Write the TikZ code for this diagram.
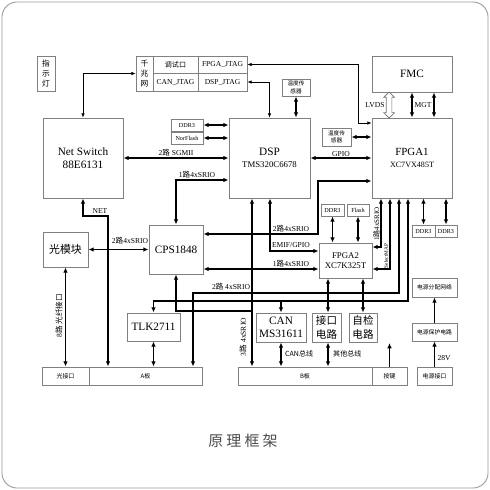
\documentclass[tikz,border=0pt]{standalone}
\usepackage{fontspec}
\setmainfont{Liberation Serif}
\newfontfamily\cjk{Noto Sans CJK SC}
\usetikzlibrary{arrows.meta}
\usetikzlibrary{shapes.arrows}
\newcommand{\fsz}[2]{\fontsize{#1}{#2}\selectfont}

\begin{document}
\begin{tikzpicture}[x=0.2mm,y=-0.2mm]
  \tikzset{tipA/.tip={Latex[length=3pt,width=2.6pt]}}
  \tikzset{tipB/.tip={Latex[length=2.4pt,width=2pt]}}
  \tikzset{blk/.style = {shape=rectangle,draw=black!50,line width=0.5pt,inner sep=0pt,align=center}}
  \tikzset{bus/.style = {line width=0.75pt,tipA-tipA}}
  \tikzset{sig/.style = {line width=0.75pt,-tipA}}
  \tikzset{jtag/.style = {line width=0.35pt,tipB-tipB}}
  \tikzset{lbl/.style = {inner sep=0.5pt,font=\fsz{4.3}{5}}}
  \tikzset{lvds/.style = {shape=double arrow,draw=black!55,fill=white,line width=0.4pt,rotate=90,
      minimum height=5.2mm,inner sep=0.5mm,double arrow head extend=0.5mm}}

  \useasboundingbox (0,0) rectangle (490,490);
  \draw[black!40,line width=0.5pt,rounded corners=3mm] (2,2) rectangle (488,488);

  % top row
  \node[blk,minimum width=3.6mm,minimum height=7mm,font=\cjk\fsz{4.4}{5.7}] (lamp) at (46,73.5) {指\\示\\灯};
  \node[blk,minimum width=3.4mm,minimum height=7mm,font=\cjk\fsz{4.4}{5.7}] (gbe) at (144.5,73.5) {千\\兆\\网};
  \node[blk,minimum width=9mm,minimum height=3.4mm,font=\cjk\fsz{4}{5}] (dbg) at (175.5,64.5) {调试口};
  \node[blk,minimum width=9mm,minimum height=3.6mm,font=\fsz{4.3}{5}] (canjtag) at (175.5,82) {CAN\_JTAG};
  \node[blk,minimum width=9.8mm,minimum height=3.4mm,font=\fsz{4.3}{5}] (fpgajtag) at (222.5,64.5) {FPGA\_JTAG};
  \node[blk,minimum width=9.8mm,minimum height=3.6mm,font=\fsz{4.3}{5}] (dspjtag) at (222.5,82) {DSP\_JTAG};
  \node[blk,minimum width=16mm,minimum height=7.2mm,font=\fsz{6.4}{7.4}] (fmc) at (412,74) {FMC};
  \node[blk,minimum width=5.6mm,minimum height=3.4mm,font=\cjk\fsz{3.2}{4.2}] (tempdsp) at (296,87.5) {温度传\\感器};

  % main processors
  \node[blk,minimum width=16mm,minimum height=16mm,font=\fsz{6.4}{7.4}] (netsw) at (83,158) {Net Switch\\88E6131};
  \node[blk,minimum width=6.4mm,minimum height=2.4mm,font=\fsz{3.5}{4}] (ddrdsp) at (187,125) {DDR3};
  \node[blk,minimum width=6.4mm,minimum height=2.4mm,font=\fsz{3.5}{4}] (nordsp) at (187,138) {NorFlash};
  \node[blk,minimum width=16.2mm,minimum height=16mm,font=\fsz{6.4}{7}] (dsp) at (269.5,158) {DSP\\{\fsz{5}{7}TMS320C6678}};
  \node[blk,minimum width=5.8mm,minimum height=3.6mm,font=\cjk\fsz{3.2}{4.2}] (tempfpga) at (336.5,137) {温度传\\感器};
  \node[blk,minimum width=16mm,minimum height=16mm,font=\fsz{6.2}{7.2}] (fpga1) at (412,158) {FPGA1\\{\fsz{4.6}{7.2}XC7VX485T}};

  % memories
  \node[blk,minimum width=4.6mm,minimum height=2.4mm,font=\fsz{3.5}{4}] (ddrk7) at (332.5,210) {DDR3};
  \node[blk,minimum width=4.4mm,minimum height=2.4mm,font=\fsz{3.5}{4}] (flashk7) at (358,210) {Flash};
  \node[blk,minimum width=4.6mm,minimum height=2.4mm,font=\fsz{3.5}{4}] (ddrv7a) at (423.5,231) {DDR3};
  \node[blk,minimum width=4.4mm,minimum height=2.4mm,font=\fsz{3.5}{4}] (ddrv7b) at (446,231) {DDR3};

  % middle row
  \node[blk,minimum width=9mm,minimum height=7mm,font=\cjk\fsz{6.2}{7}] (optmod) at (65.5,249.5) {光模块};
  \node[blk,minimum width=10.8mm,minimum height=9.8mm,font=\fsz{6.4}{7}] (cps) at (176,249.5) {CPS1848};
  \node[blk,minimum width=10.6mm,minimum height=7mm,font=\fsz{5}{6}] (fpga2) at (345.5,260.5) {FPGA2\\XC7K325T};
  \node[blk,minimum width=9mm,minimum height=3.8mm,font=\cjk\fsz{3.3}{4}] (pwrdist) at (434.5,287.5) {电源分配网络};

  % lower row
  \node[blk,minimum width=10.6mm,minimum height=5.6mm,font=\fsz{6.4}{7}] (tlk) at (153.5,327) {TLK2711};
  \node[blk,minimum width=10mm,minimum height=5.8mm,font=\fsz{6.4}{7.7}] (can) at (281,327.5) {CAN\\MS31611};
  \node[blk,minimum width=5.8mm,minimum height=5.8mm,font=\cjk\fsz{6}{8}] (ifc) at (326.5,327.5) {接口\\电路};
  \node[blk,minimum width=5.6mm,minimum height=5.8mm,font=\cjk\fsz{6}{8}] (bist) at (363,327.5) {自检\\电路};
  \node[blk,minimum width=9mm,minimum height=3.6mm,font=\cjk\fsz{3.3}{4}] (pwrprot) at (434.5,332) {电源保护电路};

  % connectors at the bottom
  \node[blk,minimum width=9.4mm,minimum height=3.6mm,font=\cjk\fsz{3.4}{4}] (optif) at (65.5,376) {光接口};
  \node[blk,minimum width=22.6mm,minimum height=3.6mm,font=\cjk\fsz{3.4}{4}] (boarda) at (145.5,376) {A板};
  \node[blk,minimum width=26.8mm,minimum height=3.6mm,font=\cjk\fsz{3.4}{4}] (boardb) at (305,376) {B板};
  \node[blk,minimum width=7mm,minimum height=3.6mm,font=\cjk\fsz{3.4}{4}] (keys) at (389.5,376) {按键};
  \node[blk,minimum width=7mm,minimum height=3.6mm,font=\cjk\fsz{3.4}{4}] (pwrin) at (434.5,376) {电源接口};
  \coordinate (keystip) at (389.5,343);

  \node[font=\cjk\fsz{8.5}{10},text=black!70] (title) at (243,441) {原\hspace{1.8pt}理\hspace{1.8pt}框\hspace{1.8pt}架};

  % debug links
  \draw[jtag] (netsw.north) |- (gbe.west);
  \draw[jtag] (fpgajtag.east) -| (358,123) -- (fpga1.west |- 358,123);
  \draw[jtag] (dspjtag.east) -| (dsp.north);

  % buses
  \foreach \from in {ddrdsp, nordsp}
    \draw[bus] (\from.east) -- (\from.east -| dsp.west);
  \draw[bus] (tempdsp.south) -- (tempdsp.south |- dsp.north);
  \draw[bus] (tempfpga.east) -- (tempfpga.east -| fpga1.west);
  \draw[bus] (netsw.east) -- node[lbl,above] (lsgmii) {2{\cjk 路} SGMII} (dsp.west);
  \draw[bus] (dsp.east) -- node[lbl,above] (lgpio) {GPIO} (fpga1.west);
  \draw[bus] (fmc.south) -- (fpga1.north);
  \draw[bus] (434,0 |- fmc.south) -- (434,0 |- fpga1.north);
  \node[lvds] (lvdsarrow) at (389,105) {};
  \node[lbl] (llvds) at (375,105) {LVDS};
  \node[lbl] (lmgt) at (423,105) {MGT};

  \draw[bus] (cps.north) |- (dsp.west |- 0,180);
  \node[lbl] (lsrioa) at (197,175) {1{\cjk 路}4xSRIO};
  \draw[bus] (cps.east |- 0,234) -- (318,234) |- (fpga1.west |- 0,181);
  \node[lbl] (lsriob) at (291,229) {2{\cjk 路}4xSRIO};
  \draw[bus] (270,0 |- dsp.south) |- (fpga2.west |- 0,251);
  \node[lbl] (lemif) at (291,245) {EMIF/GPIO};
  \draw[bus] (cps.east |- 0,269) -- (fpga2.west |- 0,269);
  \node[lbl] (lsrioc) at (291,264) {1{\cjk 路}4xSRIO};
  \draw[bus] (optmod.east) -- (cps.west);
  \node[lbl] (lsriod) at (130,241) {2{\cjk 路}4xSRIO};

  \draw[bus] (netsw.south) |- (108,216) -- (108,0 |- boarda.north);
  \node[lbl] (lnet) at (100,211) {NET};
  \draw[bus] (optmod.south) -- (optif.north);
  \node[lbl,rotate=90] (lfiber) at (59,316) {8{\cjk 路} {\cjk 光纤接口}};
  \draw[bus] (tlk.south) -- (tlk.south |- boarda.north);

  \draw[bus] (252,0 |- dsp.south) -- (252,0 |- boardb.north);
  \draw[sig] (252,311) -| (cps.south);
  \node[lbl,rotate=90] (lsrioe) at (243,337) {3{\cjk 路} 4xSRIO};
  \draw[bus] (399,0 |- fpga1.south) |- (193,293) -- (193,0 |- boarda.north);
  \node[lbl] (lsriof) at (231,287) {2{\cjk 路} 4xSRIO};
  \draw[bus] (408,0 |- fpga1.south) |- (tlk.north |- 0,301) -- (tlk.north);
  \draw[sig] (can.north |- 0,301) -- (can.north);

  \draw[bus] (381,0 |- fpga1.south) |- (fpga2.east |- 0,247);
  \node[lbl,rotate=90,font=\fsz{4}{5}] (lsriog) at (376.5,224) {1{\cjk 路}4xSRIO};
  \draw[bus] (390,0 |- fpga1.south) |- (fpga2.east |- 0,269);
  \node[lbl,rotate=90,font=\fsz{3}{4}] (lsmap) at (386,256) {SelectMAP};

  \foreach \from in {ddrv7a, ddrv7b}
    \draw[bus] (\from.north) -- (\from.north |- fpga1.south);
  \foreach \from in {ddrk7, flashk7}
    \draw[bus] (\from.south) -- (\from.south |- fpga2.north);
  \draw[bus] (328,0 |- fpga2.south) -- (328,0 |- ifc.north);
  \draw[bus] (363,0 |- fpga2.south) -- (363,0 |- bist.north);

  \draw[bus] (can.south) -- (can.south |- boardb.north);
  \node[lbl,font=\cjk\fsz{4}{5},anchor=west] (lcanbus) at (284,354) {CAN总线};
  \draw[bus] (328,0 |- ifc.south) -- (328,0 |- boardb.north);
  \node[lbl,font=\cjk\fsz{4}{5},anchor=west] (lotherbus) at (332,354) {其他总线};

  \draw[sig] (keys.north) -- (keystip);
  \draw[sig] (pwrin.north) -- (pwrprot.south);
  \node[lbl] (l28v) at (444,358) {28V};
  \draw[sig] (pwrprot.north) -- (pwrdist.south);

  % crossing dots
  \foreach \x/\y in {108/249, 252/234, 252/269, 252/293, 252/301, 270/234, 176/301, 193/301, 193/311,
                     328/293, 328/301, 363/293, 363/301}
    \fill (\x,\y) circle (0.6pt);

\end{tikzpicture}
\end{document}
